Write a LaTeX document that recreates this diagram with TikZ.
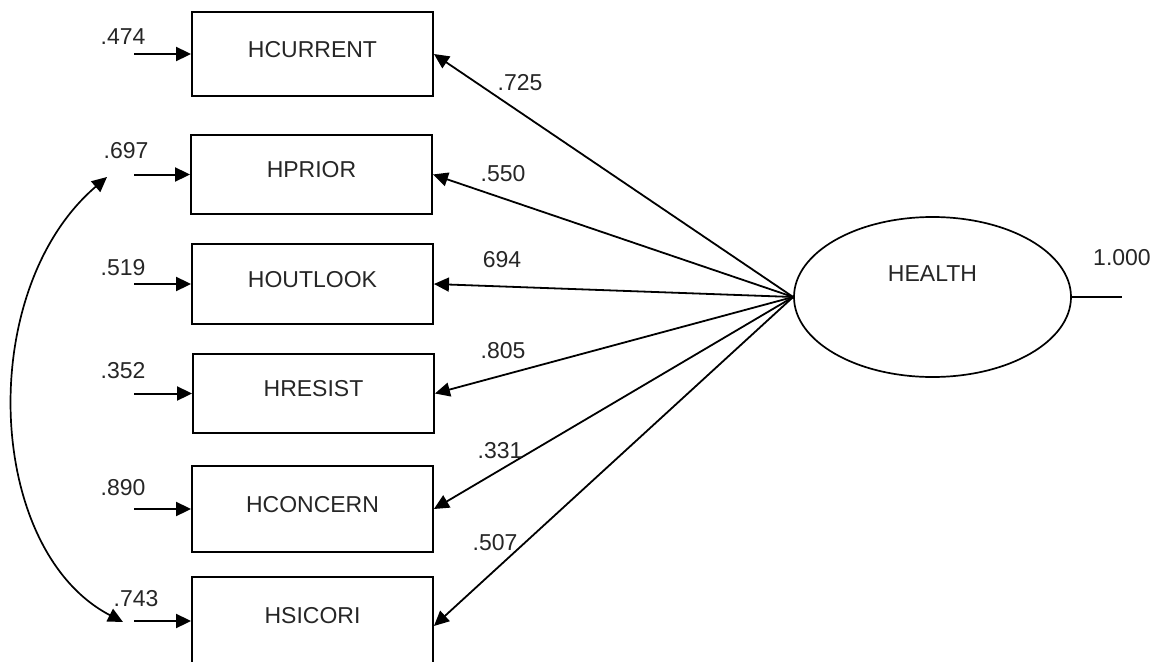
\documentclass[tikz,border=0pt]{standalone}
\usepackage{fontspec}
\setmainfont{Liberation Sans}
\usetikzlibrary{arrows.meta,shapes.geometric}
\begin{document}
\begin{tikzpicture}[x=1pt,y=-1pt,
  font=\fontsize{23}{28}\selectfont,
  every node/.style={text=black!85},
  obs/.style={draw=black, line width=1.9pt, rectangle, inner sep=0pt,
    minimum width=241pt, text height=16.5pt, text depth=10pt},
  latent/.style={draw=black, line width=1.7pt, ellipse, inner sep=0pt,
    minimum width=277pt, minimum height=160pt, text height=16.5pt, text depth=48pt},
  val/.style={inner sep=0pt, text height=16.5pt, text depth=0pt},
  tip/.style={-{Triangle[length=15pt,width=14pt]}},
  link/.style={tip, line width=1.8pt},
  errarrow/.style={tip, line width=2pt},
  covar/.style={{Triangle[length=15pt,width=14pt]}-{Triangle[length=15pt,width=14pt]}, line width=1.7pt}
]
\useasboundingbox (0,0) rectangle (1156,661);

% observed indicators
\node[obs, minimum height=84pt] (hcur) at (312.5,54)  {HCURRENT};
\node[obs, minimum height=79pt] (hpri) at (311.5,174.5) {HPRIOR};
\node[obs, minimum height=80pt] (hout) at (312.5,284) {HOUTLOOK};
\node[obs, minimum height=79pt] (hres) at (313.5,393.5) {HRESIST};
\node[obs, minimum height=86pt] (hcon) at (312.5,509) {HCONCERN};
\node[obs, minimum height=90pt, text depth=14pt] (hsic) at (312.5,622) {HSICORI};

% latent factor
\node[latent] (health) at (932.5,297) {HEALTH};
\coordinate (hvar) at (1122,297);
\draw[line width=1.8pt] (health.east) -- (hvar);
\node[val] (lhv) at (1122,257) {1.000};

% error terms
\coordinate (e1) at (134,54);
\coordinate (e2) at (134,174.5);
\coordinate (e3) at (134,284);
\coordinate (e4) at (134,393.5);
\coordinate (e5) at (134,509);
\coordinate (e6) at (134,621);
\draw[errarrow] (e1) -- (hcur.west);
\draw[errarrow] (e2) -- (hpri.west);
\draw[errarrow] (e3) -- (hout.west);
\draw[errarrow] (e4) -- (hres.west);
\draw[errarrow] (e5) -- (hcon.west);
\draw[errarrow] (e6) -- (hsic.west |- e6);
\node[val] (le1) at (123,36)  {.474};
\node[val] (le2) at (126,150) {.697};
\node[val] (le3) at (123,267) {.519};
\node[val] (le4) at (123,370) {.352};
\node[val] (le5) at (123,487) {.890};
\node[val] (le6) at (136,598) {.743};

% error covariance
\coordinate (c1) at (107,177);
\coordinate (c2) at (123,622);
\draw[covar] (c1) .. controls (-25,290) and (-15,550) .. (c2);

% factor loadings
\draw[link] (health.west) -- (hcur.east);
\draw[link] (health.west) -- (hpri.east);
\draw[link] (health.west) -- (hout.east);
\draw[link] (health.west) -- (hres.east);
\draw[link] (health.west) -- (hcon.east);
\draw[link] (health.west) -- ([yshift=-4pt]hsic.east);
\node[val] (l1) at (520,82)  {.725};
\node[val] (l2) at (503,173) {.550};
\node[val] (l3) at (502,259) {694};
\node[val] (l4) at (503,350) {.805};
\node[val] (l5) at (500,450) {.331};
\node[val] (l6) at (495,542) {.507};
\end{tikzpicture}
\end{document}
